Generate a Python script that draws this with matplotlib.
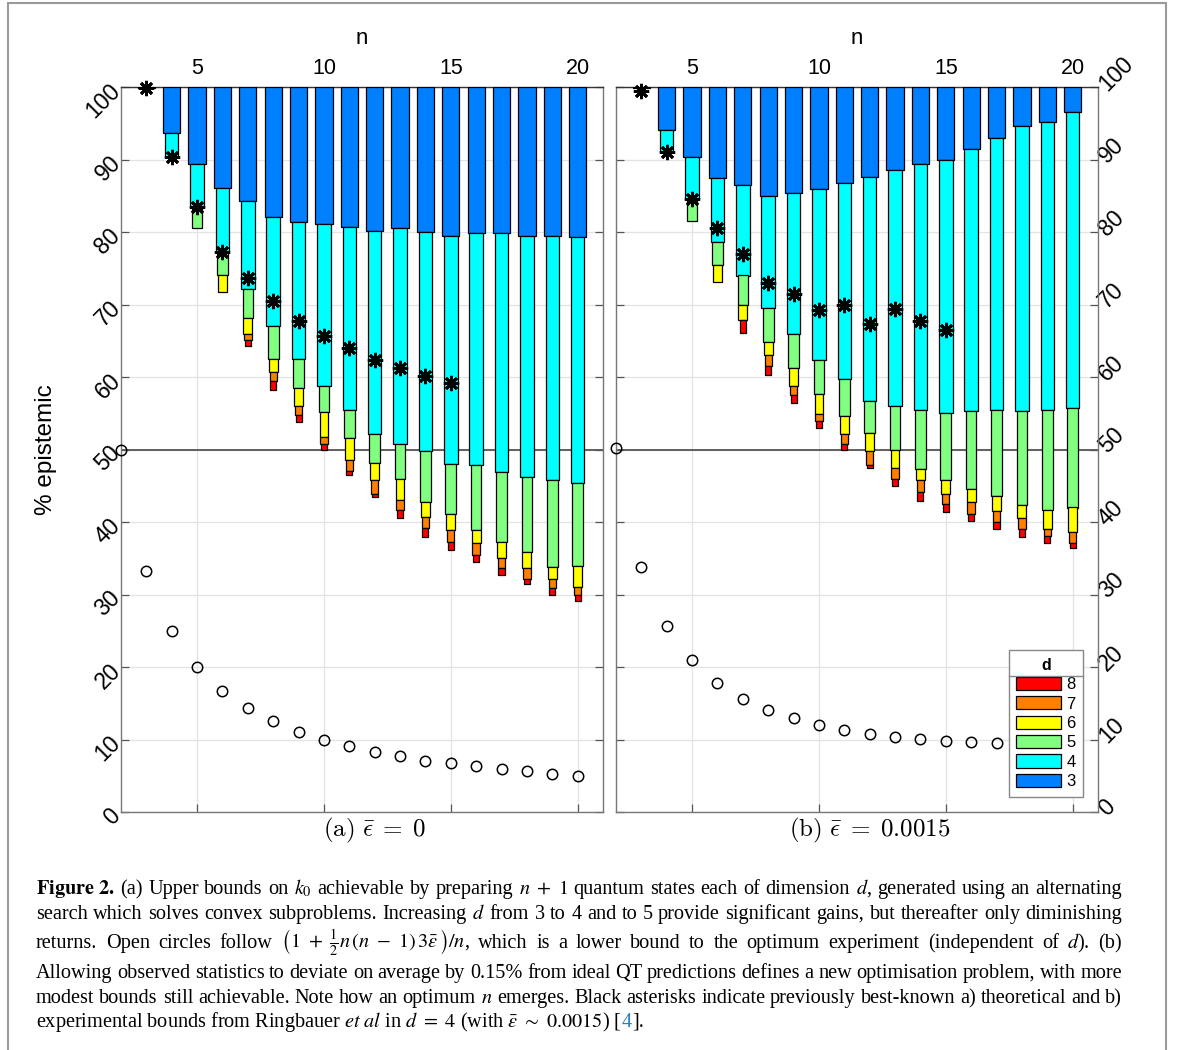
#!/usr/bin/env python

import numpy as np
import matplotlib
matplotlib.use("Agg")
import matplotlib.pyplot as plt
from matplotlib.patches import Patch, Rectangle
from matplotlib.lines import Line2D

# number of measured states n (bars start at n = 3)
n_bars = np.arange(3, 21)
n_circ = np.arange(2, 21)
n_star = np.arange(3, 16)
nan = np.nan

# (a) eps = 0 : lower edge of each coloured block (% epistemic)
a_d3 = [99.8, 93.6, 89.4, 86.1, 84.3, 82.1, 81.4, 81.1, 80.7, 80.1, 80.5, 80.0, 79.5, 79.8, 79.8, 79.5, 79.4, 79.3]
a_d4 = [nan, 90.4, 83.5, 77.2, 72.2, 67.1, 62.5, 58.8, 55.5, 52.1, 50.8, 49.8, 48.05, 47.8, 46.9, 46.2, 45.8, 45.4]
a_d5 = [nan, nan, 80.5, 74.1, 68.2, 62.5, 58.5, 55.2, 51.6, 48.2, 45.9, 42.7, 41.15, 38.95, 37.3, 35.8, 33.75, 33.9]
a_d6 = [nan, nan, nan, 71.7, 65.9, 60.7, 56.0, 51.7, 48.5, 45.75, 43.1, 40.7, 38.85, 37.15, 35.1, 33.7, 32.2, 31.0]
a_d7 = [nan, nan, nan, nan, 65.1, 59.4, 54.8, 50.8, 47.1, 43.8, 41.6, 39.2, 37.2, 35.5, 33.7, 32.1, 30.9, 29.9]
a_d8 = [nan, nan, nan, nan, 64.3, 58.2, 53.8, 49.9, 46.5, 43.45, 40.6, 38.0, 36.2, 34.5, 32.7, 31.4, 30.0, 29.1]
a_star = [99.8, 90.4, 83.5, 77.2, 73.6, 70.5, 67.7, 65.7, 64.0, 62.3, 61.3, 60.2, 59.2]
a_circ = [50.0, 33.3, 25.0, 20.0, 16.7, 14.3, 12.5, 11.1, 10.0, 9.1, 8.3, 7.7, 7.1, 6.7, 6.3, 5.9, 5.6, 5.3, 5.0]

# (b) eps = 0.0015
b_d3 = [99.8, 94.1, 90.35, 87.5, 86.5, 84.9, 85.4, 86.0, 86.7, 87.6, 88.5, 89.4, 89.9, 91.5, 93.0, 94.6, 95.2, 96.6]
b_d4 = [nan, 91.1, 84.5, 78.6, 74.0, 69.5, 65.9, 62.4, 59.7, 56.7, 56.0, 55.4, 55.0, 55.3, 55.4, 55.3, 55.4, 55.7]
b_d5 = [nan, nan, 81.5, 75.4, 69.9, 64.8, 61.2, 57.7, 54.6, 52.3, 50.0, 47.35, 45.8, 44.5, 43.6, 42.3, 41.7, 42.0]
b_d6 = [nan, nan, nan, 73.1, 67.8, 63.0, 58.7, 54.9, 52.1, 49.75, 47.5, 45.8, 43.8, 42.7, 41.5, 40.5, 39.0, 38.6]
b_d7 = [nan, nan, nan, nan, nan, 61.5, 57.5, 54.0, 50.7, 47.9, 45.9, 44.2, 42.5, 41.15, 40.0, 39.1, 38.1, 37.15]
b_d8 = [nan, nan, nan, nan, 66.1, 60.3, 56.4, 53.0, 50.0, 47.4, 45.0, 42.9, 41.4, 40.1, 39.0, 37.9, 37.1, 36.4]
b_star = [99.5, 91.1, 84.6, 80.5, 76.9, 72.9, 71.5, 69.3, 70.0, 67.3, 69.4, 67.7, 66.5]
b_circ = [50.2, 33.8, 25.7, 20.9, 17.8, 15.6, 14.1, 12.9, 12.0, 11.3, 10.8, 10.4, 10.1, 9.8, 9.6, 9.5, 9.4, 9.4, 9.4]

dims = [3, 4, 5, 6, 7, 8]
colours = ["#0080ff", "#00ffff", "#80ff80", "#ffff00", "#ff8000", "#ff0000"]
widths = [0.68, 0.53, 0.42, 0.35, 0.29, 0.24]

SANS = "Liberation Sans"
W, H = 1177, 1050


def draw_bars(ax, blocks):
    top = np.full(len(n_bars), 100.)
    for low, w, col in zip(blocks, widths, colours):
        low = np.asarray(low, dtype=float)
        ok = ~np.isnan(low)
        ax.bar(n_bars[ok], (top - low)[ok], bottom=low[ok], width=w,
               color=col, edgecolor="black", linewidth=0.9, zorder=3)
        top = np.where(ok, low, top)


def setup_axes(ax, side):
    ax.set_xlim(2, 21)
    ax.set_ylim(0, 100)
    ax.set_xticks([5, 10, 15, 20])
    ax.set_yticks(np.arange(0, 101, 10))
    ax.grid(True, color="#e3e3e3", linewidth=0.9, zorder=0)
    ax.set_axisbelow(True)
    ax.xaxis.set_ticks_position("both")
    ax.yaxis.set_ticks_position("both")
    ax.tick_params(axis="both", direction="in", length=6, width=0.9,
                   color="#555555")
    ax.tick_params(axis="x", labeltop=True, labelbottom=False, pad=6,
                   labelsize=15.5)
    if side == "left":
        ax.tick_params(axis="y", labelleft=True, labelright=False, pad=3,
                       labelsize=16.5)
        plt.setp(ax.get_yticklabels(), rotation=45, ha="right", va="center",
                 rotation_mode="anchor")
    else:
        ax.tick_params(axis="y", labelleft=False, labelright=True, pad=3,
                       labelsize=16.5)
        plt.setp(ax.get_yticklabels(), rotation=45, ha="left", va="center",
                 rotation_mode="anchor")
    for lab in ax.get_xticklabels() + ax.get_yticklabels():
        lab.set_family(SANS)
    ax.xaxis.set_label_position("top")
    ax.set_xlabel("n", fontsize=16, family=SANS, labelpad=10)
    for sp in ax.spines.values():
        sp.set_color("#777777")
        sp.set_linewidth(1.0)
    ax.spines["top"].set_color("#333333")
    ax.axhline(50, color="#555555", linewidth=1.3, zorder=2)


def panel(ax, blocks, stars, circles, side):
    setup_axes(ax, side)
    draw_bars(ax, blocks)
    ax.plot(n_circ, circles, "o", markersize=7.5, markerfacecolor="none",
            markeredgecolor="black", markeredgewidth=1.1, zorder=4, clip_on=False)
    ax.plot(n_star, stars, linestyle="none", marker=(8, 2, 0), markersize=11,
            markeredgewidth=2.0, color="black", zorder=5, clip_on=False)


fig = plt.figure(figsize=(W / 100, H / 100), dpi=100)
ax_a = fig.add_axes([121 / W, 1 - 812 / H, 482 / W, 725 / H])
ax_b = fig.add_axes([616 / W, 1 - 812 / H, 482 / W, 725 / H])

panel(ax_a, [a_d3, a_d4, a_d5, a_d6, a_d7, a_d8], a_star, a_circ, "left")
panel(ax_b, [b_d3, b_d4, b_d5, b_d6, b_d7, b_d8], b_star, b_circ, "right")

fig.text(46 / W, 1 - 450 / H, "% epistemic", rotation=90, family=SANS,
         fontsize=17.5, ha="center", va="center")

# legend for dimension d, drawn on panel (b)
handles = [Patch(facecolor=c, edgecolor="black", linewidth=0.9)
           for c in colours[::-1]]
leg = ax_b.legend(handles, [str(d) for d in dims[::-1]], title="d",
                  loc="lower right", bbox_to_anchor=(0.969, 0.021),
                  borderaxespad=0, fancybox=False, framealpha=1,
                  edgecolor="#888888", prop={"family": SANS, "size": 12},
                  title_fontproperties={"family": SANS, "size": 11.5, "weight": "bold"},
                  handlelength=2.7, handleheight=0.85, labelspacing=0.24,
                  handletextpad=0.3, borderpad=0.45)
leg.set_zorder(10)
leg.get_frame().set_linewidth(1.0)

# sub-captions
fig.text(375 / W, 1 - 830 / H, r"$\mathrm{(a)}\ \bar{\epsilon}\;=\;0$",
         math_fontfamily="cm", fontsize=18, ha="center", va="center")
fig.text(870 / W, 1 - 830 / H, r"$\mathrm{(b)}\ \bar{\epsilon}\;=\;0.0015$",
         math_fontfamily="cm", fontsize=18, ha="center", va="center")

# outer frame
fig.patches.append(Rectangle((8 / W, -0.01), (1166 - 8) / W, 1.01 - 3 / H,
                             transform=fig.transFigure, fill=False,
                             edgecolor="#9a9a9a", linewidth=1.5))

# figure caption, justified like the journal text
cap_kw = dict(family="Liberation Serif", fontsize=14.6, math_fontfamily="stix",
              va="baseline")
cap_lines = [
    r"$\mathbf{Figure\ 2.}$ (a) Upper bounds on $k_0$ achievable by preparing $n\ +\ 1$ quantum states each of dimension $d$, generated using an alternating",
    r"search which solves convex subproblems. Increasing $d$ from 3 to 4 and to 5 provide significant gains, but thereafter only diminishing",
    r"returns. Open circles follow $\left(1\ +\ \frac{1}{2}n\,(n\ -\ 1)\,3\bar{\epsilon}\,\right)/n$, which is a lower bound to the optimum experiment (independent of $d$). (b)",
    r"Allowing observed statistics to deviate on average by 0.15% from ideal QT predictions defines a new optimisation problem, with more",
    r"modest bounds still achievable. Note how an optimum $n$ emerges. Black asterisks indicate previously best-known a) theoretical and b)",
]
cap_base = [894, 919, 948, 978, 1003]
last_line = [(r"experimental bounds from Ringbauer $\mathit{et\ al}$ in $d\ =\ 4$ (with $\bar{\epsilon}\ \sim\ 0.0015$) [", "black"),
             ("4", "#2a7fc0"), ("].", "black")]


def split_words(s):
    out, cur, inmath = [], "", False
    for ch in s:
        if ch == "$":
            inmath = not inmath
        if ch == " " and not inmath:
            if cur:
                out.append(cur)
            cur = ""
        else:
            cur += ch
    if cur:
        out.append(cur)
    return out


renderer = fig.canvas.get_renderer()
x0, x1 = 36, 1122
for line, yb in zip(cap_lines, cap_base):
    words = split_words(line)
    txts = [fig.text(0, 1 - yb / H, w, **cap_kw) for w in words]
    wds = [t.get_window_extent(renderer).width for t in txts]
    gap = (x1 - x0 - sum(wds)) / (len(words) - 1)
    x = x0
    for t, wd in zip(txts, wds):
        t.set_x(x / W)
        x += wd + gap

x = x0
for piece, col in last_line:
    t = fig.text(x / W, 1 - 1027 / H, piece, color=col, **cap_kw)
    x += t.get_window_extent(renderer).width

# separator under legend title
fig.canvas.draw()
fb = leg.get_frame().get_window_extent(renderer)
tb = leg.get_title().get_window_extent(renderer)
ysep = tb.y0 - 3
fig.lines.append(Line2D([fb.x0 / W, fb.x1 / W], [ysep / H, ysep / H],
                        transform=fig.transFigure, color="#888888",
                        linewidth=1.0, zorder=20))

fig.savefig("out.png", dpi=100)
